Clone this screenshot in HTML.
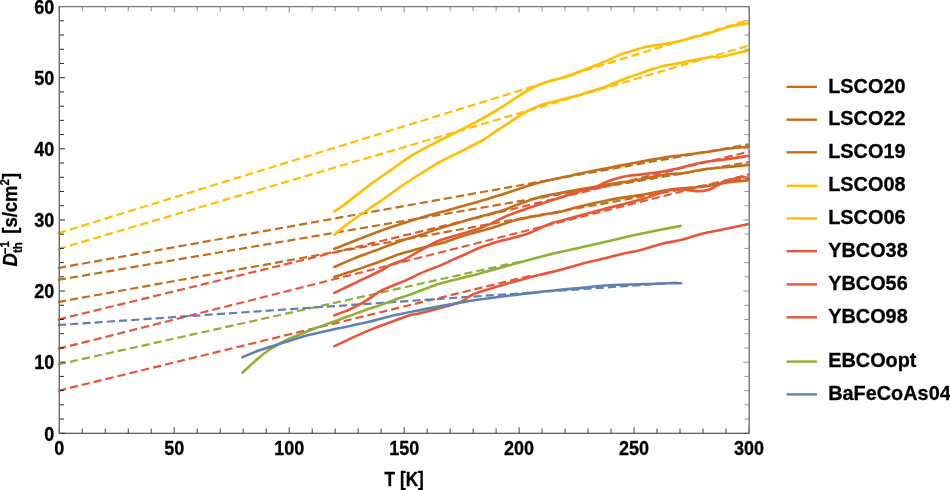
<!DOCTYPE html>
<html><head><meta charset="utf-8"><style>
html,body{margin:0;padding:0;background:#fff;width:950px;height:490px;overflow:hidden}
svg{display:block;font-family:"Liberation Sans",sans-serif;will-change:transform}
</style></head><body>
<svg width="950" height="490" viewBox="0 0 950 490">
<rect width="950" height="490" fill="#fff"/>
<g fill="none" stroke-width="2.2" stroke-dasharray="8.2 4.05" stroke-dashoffset="0.0">
<path stroke="#FFBF00" d="M57.92 233.31 L749.00 19.74"/>
<path stroke="#FFBF00" d="M57.92 249.08 L749.00 45.55"/>
<path stroke="#C56E1A" d="M57.92 268.05 L749.00 144.27"/>
<path stroke="#C56E1A" d="M57.92 279.92 L749.00 162.12"/>
<path stroke="#C56E1A" d="M57.92 302.05 L749.00 177.27"/>
<path stroke="#E95536" d="M57.92 319.56 L749.00 151.66"/>
<path stroke="#E95536" d="M57.92 348.94 L749.00 174.42"/>
<path stroke="#E95536" d="M57.92 390.75 L532.89 275.11"/>
<path stroke="#8FB032" d="M57.92 364.48 L519.10 261.76"/>
<path stroke="#5E81B5" d="M57.92 325.08 L680.03 282.38"/>
</g>
<g fill="none" stroke-width="2.6" stroke-linejoin="round" stroke-linecap="round">
<path stroke="#FFBF00" d="M334.50 211.40 C336.17 210.25 338.58 208.95 344.50 204.50 C350.42 200.05 362.35 190.38 370.00 184.70 C377.65 179.02 383.60 175.17 390.40 170.40 C397.20 165.63 404.00 160.35 410.80 156.10 C417.60 151.85 424.40 148.47 431.20 144.90 C438.00 141.33 444.42 138.37 451.60 134.70 C458.78 131.03 468.13 126.18 474.30 122.90 C480.47 119.62 483.83 117.75 488.60 115.00 C493.37 112.25 498.15 109.38 502.90 106.40 C507.65 103.42 512.82 99.83 517.10 97.10 C521.38 94.37 525.02 92.02 528.60 90.00 C532.18 87.98 535.27 86.43 538.60 85.00 C541.93 83.57 545.03 82.47 548.60 81.40 C552.17 80.33 556.35 79.62 560.00 78.60 C563.65 77.58 566.65 76.70 570.50 75.30 C574.35 73.90 578.88 71.88 583.10 70.20 C587.32 68.52 591.58 66.88 595.80 65.20 C600.02 63.52 604.20 61.90 608.40 60.10 C612.60 58.30 616.80 55.98 621.00 54.40 C625.20 52.82 629.60 51.83 633.60 50.60 C637.60 49.37 640.60 48.00 645.00 47.00 C649.40 46.00 654.87 45.42 660.00 44.60 C665.13 43.78 670.53 43.22 675.80 42.10 C681.07 40.98 686.33 39.30 691.60 37.90 C696.87 36.50 702.13 35.28 707.40 33.70 C712.67 32.12 718.82 29.75 723.20 28.40 C727.58 27.05 729.48 26.47 733.70 25.60 C737.92 24.73 746.03 23.60 748.50 23.20"/>
<path stroke="#FFBF00" d="M334.70 234.80 C336.33 233.38 338.78 230.65 344.50 226.30 C350.22 221.95 362.72 213.08 369.00 208.70 C375.28 204.32 376.93 203.67 382.20 200.00 C387.47 196.33 394.13 191.12 400.60 186.70 C407.07 182.28 414.20 177.75 421.00 173.50 C427.80 169.25 434.60 164.95 441.40 161.20 C448.20 157.45 454.88 154.53 461.80 151.00 C468.72 147.47 477.25 143.27 482.90 140.00 C488.55 136.73 491.18 134.38 495.70 131.40 C500.22 128.42 505.23 125.18 510.00 122.10 C514.77 119.02 520.25 115.27 524.30 112.90 C528.35 110.53 530.73 109.45 534.30 107.90 C537.87 106.35 541.42 104.92 545.70 103.60 C549.98 102.28 554.82 101.35 560.00 100.00 C565.18 98.65 571.90 96.88 576.80 95.50 C581.70 94.12 585.18 92.97 589.40 91.70 C593.62 90.43 597.88 89.38 602.10 87.90 C606.32 86.42 610.50 84.48 614.70 82.80 C618.90 81.12 623.08 79.35 627.30 77.80 C631.52 76.25 635.78 74.95 640.00 73.50 C644.22 72.05 648.38 70.42 652.60 69.10 C656.82 67.78 661.08 66.55 665.30 65.60 C669.52 64.65 673.70 64.18 677.90 63.40 C682.10 62.62 686.30 61.73 690.50 60.90 C694.70 60.07 699.52 59.10 703.10 58.40 C706.68 57.70 709.47 56.88 712.00 56.70 C714.53 56.52 715.57 57.55 718.30 57.30 C721.03 57.05 725.03 55.97 728.40 55.20 C731.77 54.43 735.15 53.47 738.50 52.70 C741.85 51.93 746.83 50.95 748.50 50.60"/>
<path stroke="#C56E1A" d="M334.30 249.00 C338.35 247.38 349.80 242.70 358.60 239.30 C367.40 235.90 377.58 231.93 387.10 228.60 C396.62 225.27 408.55 221.57 415.70 219.30 C422.85 217.03 424.52 216.55 430.00 215.00 C435.48 213.45 440.75 212.15 448.60 210.00 C456.45 207.85 468.53 204.58 477.10 202.10 C485.67 199.62 490.05 198.25 500.00 195.10 C509.95 191.95 524.55 186.57 536.80 183.20 C549.05 179.83 561.25 177.50 573.50 174.90 C585.75 172.30 599.22 169.80 610.30 167.60 C621.38 165.40 630.53 163.45 640.00 161.70 C649.47 159.95 656.35 158.68 667.10 157.10 C677.85 155.52 694.18 153.63 704.50 152.20 C714.82 150.77 721.67 149.43 729.00 148.50 C736.33 147.57 745.25 146.92 748.50 146.60"/>
<path stroke="#C56E1A" d="M334.30 267.10 C337.52 265.68 347.17 261.22 353.60 258.60 C360.03 255.98 364.93 254.38 372.90 251.40 C380.87 248.42 393.55 243.43 401.40 240.70 C409.25 237.97 413.57 237.07 420.00 235.00 C426.43 232.93 432.45 230.68 440.00 228.30 C447.55 225.92 456.88 223.12 465.30 220.70 C473.72 218.28 484.20 215.55 490.50 213.80 C496.80 212.05 495.38 212.85 503.10 210.20 C510.82 207.55 525.07 201.17 536.80 197.90 C548.53 194.63 564.32 192.35 573.50 190.60 C582.68 188.85 585.77 188.48 591.90 187.40 C598.03 186.32 602.28 185.42 610.30 184.10 C618.32 182.78 630.53 181.13 640.00 179.50 C649.47 177.87 660.43 175.28 667.10 174.30 C673.77 173.32 673.77 174.43 680.00 173.60 C686.23 172.77 696.33 170.42 704.50 169.30 C712.67 168.18 721.67 167.62 729.00 166.90 C736.33 166.18 745.25 165.32 748.50 165.00"/>
<path stroke="#C56E1A" d="M334.30 276.90 C337.52 275.87 347.65 272.68 353.60 270.70 C359.55 268.72 365.25 266.67 370.00 265.00 C374.75 263.33 376.87 262.60 382.10 260.70 C387.33 258.80 394.25 255.87 401.40 253.60 C408.55 251.33 418.57 248.78 425.00 247.10 C431.43 245.42 433.28 245.47 440.00 243.50 C446.72 241.53 456.88 237.83 465.30 235.30 C473.72 232.77 482.08 230.83 490.50 228.30 C498.92 225.77 507.38 222.30 515.80 220.10 C524.22 217.90 533.63 216.47 541.00 215.10 C548.37 213.73 554.58 213.08 560.00 211.90 C565.42 210.72 565.12 210.03 573.50 208.00 C581.88 205.97 599.22 201.85 610.30 199.70 C621.38 197.55 630.53 196.72 640.00 195.10 C649.47 193.48 659.00 191.20 667.10 190.00 C675.20 188.80 682.37 188.48 688.60 187.90 C694.83 187.32 697.77 187.45 704.50 186.50 C711.23 185.55 721.67 183.23 729.00 182.20 C736.33 181.17 745.25 180.62 748.50 180.30"/>
<path stroke="#E95536" d="M334.30 292.90 C337.52 291.35 345.63 287.42 353.60 283.60 C361.57 279.78 376.03 273.10 382.10 270.00 C388.17 266.90 386.42 266.67 390.00 265.00 C393.58 263.33 398.60 262.38 403.60 260.00 C408.60 257.62 413.93 253.98 420.00 250.70 C426.07 247.42 432.45 243.30 440.00 240.30 C447.55 237.30 458.98 234.60 465.30 232.70 C471.62 230.80 473.70 230.37 477.90 228.90 C482.10 227.43 486.30 225.78 490.50 223.90 C494.70 222.02 498.88 219.50 503.10 217.60 C507.32 215.70 510.18 214.55 515.80 212.50 C521.42 210.45 527.18 208.50 536.80 205.30 C546.42 202.10 563.70 196.37 573.50 193.30 C583.30 190.23 589.47 189.05 595.60 186.90 C601.73 184.75 604.78 182.25 610.30 180.40 C615.82 178.55 623.75 176.77 628.70 175.80 C633.65 174.83 633.60 175.45 640.00 174.60 C646.40 173.75 659.00 172.18 667.10 170.70 C675.20 169.22 682.37 167.15 688.60 165.70 C694.83 164.25 697.77 163.13 704.50 162.00 C711.23 160.87 721.67 159.93 729.00 158.90 C736.33 157.87 745.25 156.32 748.50 155.80"/>
<path stroke="#E95536" d="M334.30 315.40 C336.32 314.65 343.78 311.92 346.40 310.90 C349.02 309.88 347.62 310.47 350.00 309.30 C352.38 308.13 357.13 305.93 360.70 303.90 C364.27 301.87 368.42 299.07 371.40 297.10 C374.38 295.13 376.22 293.52 378.60 292.10 C380.98 290.68 383.08 289.78 385.70 288.60 C388.32 287.42 391.08 286.33 394.30 285.00 C397.52 283.67 399.88 282.87 405.00 280.60 C410.12 278.33 419.17 273.90 425.00 271.40 C430.83 268.90 435.40 267.52 440.00 265.60 C444.60 263.68 448.38 261.80 452.60 259.90 C456.82 258.00 461.08 256.10 465.30 254.20 C469.52 252.30 473.70 250.18 477.90 248.50 C482.10 246.82 486.30 245.47 490.50 244.10 C494.70 242.73 498.88 241.47 503.10 240.30 C507.32 239.13 511.58 238.25 515.80 237.10 C520.02 235.95 524.20 234.97 528.40 233.40 C532.60 231.83 536.80 229.50 541.00 227.70 C545.20 225.90 550.27 223.75 553.60 222.60 C556.93 221.45 556.25 222.07 561.00 220.80 C565.75 219.53 575.07 216.93 582.10 215.00 C589.13 213.07 596.18 211.05 603.20 209.20 C610.22 207.35 618.07 205.48 624.20 203.90 C630.33 202.32 635.22 201.07 640.00 199.70 C644.78 198.33 647.90 197.30 652.90 195.70 C657.90 194.10 665.57 191.20 670.00 190.10 C674.43 189.00 676.35 189.10 679.50 189.10 C682.65 189.10 685.75 189.73 688.90 190.10 C692.05 190.47 695.23 191.30 698.40 191.30 C701.57 191.30 704.75 191.08 707.90 190.10 C711.05 189.12 714.15 186.90 717.30 185.40 C720.45 183.90 723.63 182.28 726.80 181.10 C729.97 179.92 733.77 179.00 736.30 178.30 C738.83 177.60 739.97 176.90 742.00 176.90 C744.03 176.90 747.42 178.07 748.50 178.30"/>
<path stroke="#E95536" d="M334.30 346.10 C337.52 344.60 346.82 340.13 353.60 337.10 C360.38 334.07 367.87 330.75 375.00 327.90 C382.13 325.05 390.45 322.15 396.40 320.00 C402.35 317.85 406.77 316.12 410.70 315.00 C414.63 313.88 414.77 314.53 420.00 313.30 C425.23 312.07 435.22 309.53 442.10 307.60 C448.98 305.67 456.38 303.78 461.30 301.70 C466.22 299.62 467.43 297.07 471.60 295.10 C475.77 293.13 480.17 291.87 486.30 289.90 C492.43 287.93 499.80 285.75 508.40 283.30 C517.00 280.85 529.30 277.42 537.90 275.20 C546.50 272.98 551.58 272.20 560.00 270.00 C568.42 267.80 581.90 263.70 588.40 262.00 C594.90 260.30 593.73 261.05 599.00 259.80 C604.27 258.55 613.03 256.13 620.00 254.50 C626.97 252.87 633.93 251.77 640.80 250.00 C647.67 248.23 654.40 245.60 661.20 243.90 C668.00 242.20 674.80 241.50 681.60 239.80 C688.40 238.10 695.20 235.40 702.00 233.70 C708.80 232.00 714.65 231.20 722.40 229.60 C730.15 228.00 744.15 225.02 748.50 224.10"/>
<path stroke="#8FB032" d="M242.40 372.70 C243.88 371.33 248.45 367.08 251.30 364.50 C254.15 361.92 256.77 359.50 259.50 357.20 C262.23 354.90 264.98 352.60 267.70 350.70 C270.42 348.80 273.08 347.38 275.80 345.80 C278.52 344.22 279.90 343.12 284.00 341.20 C288.10 339.28 294.95 336.53 300.40 334.30 C305.85 332.07 310.93 329.97 316.70 327.80 C322.47 325.63 329.45 323.32 335.00 321.30 C340.55 319.28 345.12 317.52 350.00 315.70 C354.88 313.88 359.53 312.07 364.30 310.40 C369.07 308.73 373.83 307.37 378.60 305.70 C383.37 304.03 387.67 302.25 392.90 300.40 C398.13 298.55 403.22 297.05 410.00 294.60 C416.78 292.15 427.02 287.95 433.60 285.70 C440.18 283.45 441.95 283.10 449.50 281.10 C457.05 279.10 469.78 276.08 478.90 273.70 C488.02 271.32 492.97 269.87 504.20 266.80 C515.43 263.73 532.27 258.80 546.30 255.30 C560.33 251.80 576.12 248.62 588.40 245.80 C600.68 242.98 611.27 240.42 620.00 238.40 C628.73 236.38 630.70 235.78 640.80 233.70 C650.90 231.62 673.97 227.20 680.60 225.90"/>
<path stroke="#5E81B5" d="M242.40 357.20 C245.25 356.05 252.57 352.75 259.50 350.30 C266.43 347.85 275.83 345.03 284.00 342.50 C292.17 339.97 300.00 337.33 308.50 335.10 C317.00 332.87 325.10 331.27 335.00 329.10 C344.90 326.93 358.85 324.22 367.90 322.10 C376.95 319.98 380.62 318.40 389.30 316.40 C397.98 314.40 409.97 312.07 420.00 310.10 C430.03 308.13 439.68 306.37 449.50 304.60 C459.32 302.83 469.08 300.97 478.90 299.50 C488.72 298.03 498.57 297.03 508.40 295.80 C518.23 294.57 529.30 293.08 537.90 292.10 C546.50 291.12 553.07 290.58 560.00 289.90 C566.93 289.22 571.35 288.77 579.50 288.00 C587.65 287.23 599.08 285.92 608.90 285.30 C618.72 284.68 628.57 284.63 638.40 284.30 C648.23 283.97 660.77 283.47 667.90 283.30 C675.03 283.13 678.98 283.30 681.20 283.30"/>
</g>
<g fill="none">
<path stroke="#555" stroke-width="1.1" d="M59.30 433.30 V427.30 M82.29 433.30 V428.60 M105.28 433.30 V428.60 M128.27 433.30 V428.60 M151.26 433.30 V428.60 M174.25 433.30 V427.30 M197.24 433.30 V428.60 M220.23 433.30 V428.60 M243.22 433.30 V428.60 M266.21 433.30 V428.60 M289.20 433.30 V427.30 M312.19 433.30 V428.60 M335.18 433.30 V428.60 M358.17 433.30 V428.60 M381.16 433.30 V428.60 M404.15 433.30 V427.30 M427.14 433.30 V428.60 M450.13 433.30 V428.60 M473.12 433.30 V428.60 M496.11 433.30 V428.60 M519.10 433.30 V427.30 M542.09 433.30 V428.60 M565.08 433.30 V428.60 M588.07 433.30 V428.60 M611.06 433.30 V428.60 M634.05 433.30 V427.30 M657.04 433.30 V428.60 M680.03 433.30 V428.60 M703.02 433.30 V428.60 M726.01 433.30 V428.60 M749.00 433.30 V427.30"/>
<path stroke="#999" stroke-width="1.1" d="M59.30 6.58 V12.58 M82.29 6.58 V11.28 M105.28 6.58 V11.28 M128.27 6.58 V11.28 M151.26 6.58 V11.28 M174.25 6.58 V12.58 M197.24 6.58 V11.28 M220.23 6.58 V11.28 M243.22 6.58 V11.28 M266.21 6.58 V11.28 M289.20 6.58 V12.58 M312.19 6.58 V11.28 M335.18 6.58 V11.28 M358.17 6.58 V11.28 M381.16 6.58 V11.28 M404.15 6.58 V12.58 M427.14 6.58 V11.28 M450.13 6.58 V11.28 M473.12 6.58 V11.28 M496.11 6.58 V11.28 M519.10 6.58 V12.58 M542.09 6.58 V11.28 M565.08 6.58 V11.28 M588.07 6.58 V11.28 M611.06 6.58 V11.28 M634.05 6.58 V12.58 M657.04 6.58 V11.28 M680.03 6.58 V11.28 M703.02 6.58 V11.28 M726.01 6.58 V11.28 M749.00 6.58 V12.58"/>
<path stroke="#222" stroke-width="1" d="M59.30 433.30 H65.00 M59.30 419.08 H63.90 M59.30 404.85 H63.90 M59.30 390.63 H63.90 M59.30 376.40 H63.90 M59.30 362.18 H65.00 M59.30 347.96 H63.90 M59.30 333.73 H63.90 M59.30 319.51 H63.90 M59.30 305.28 H63.90 M59.30 291.06 H65.00 M59.30 276.84 H63.90 M59.30 262.61 H63.90 M59.30 248.39 H63.90 M59.30 234.16 H63.90 M59.30 219.94 H65.00 M59.30 205.72 H63.90 M59.30 191.49 H63.90 M59.30 177.27 H63.90 M59.30 163.04 H63.90 M59.30 148.82 H65.00 M59.30 134.60 H63.90 M59.30 120.37 H63.90 M59.30 106.15 H63.90 M59.30 91.92 H63.90 M59.30 77.70 H65.00 M59.30 63.48 H63.90 M59.30 49.25 H63.90 M59.30 35.03 H63.90 M59.30 20.80 H63.90 M59.30 6.58 H65.00"/>
<path stroke="#999" stroke-width="1" d="M749.00 433.30 H743.30 M749.00 419.08 H744.40 M749.00 404.85 H744.40 M749.00 390.63 H744.40 M749.00 376.40 H744.40 M749.00 362.18 H743.30 M749.00 347.96 H744.40 M749.00 333.73 H744.40 M749.00 319.51 H744.40 M749.00 305.28 H744.40 M749.00 291.06 H743.30 M749.00 276.84 H744.40 M749.00 262.61 H744.40 M749.00 248.39 H744.40 M749.00 234.16 H744.40 M749.00 219.94 H743.30 M749.00 205.72 H744.40 M749.00 191.49 H744.40 M749.00 177.27 H744.40 M749.00 163.04 H744.40 M749.00 148.82 H743.30 M749.00 134.60 H744.40 M749.00 120.37 H744.40 M749.00 106.15 H744.40 M749.00 91.92 H744.40 M749.00 77.70 H743.30 M749.00 63.48 H744.40 M749.00 49.25 H744.40 M749.00 35.03 H744.40 M749.00 20.80 H744.40 M749.00 6.58 H743.30"/>
<path stroke="#333" stroke-width="1.1" d="M58.70 433.30 H749.60"/>
<path stroke="#777" stroke-width="1.4" d="M58.70 6.58 H749.60"/>
<path stroke="#6a6a6a" stroke-width="1.4" d="M59.30 6.58 V433.30"/>
<path stroke="#777" stroke-width="1.4" d="M749.20 6.58 V433.30"/>
</g>
<g font-family="Liberation Sans, sans-serif" font-weight="bold" fill="#000" stroke="#000" stroke-width="0.3">
<text transform="translate(59.30 455.2) scale(0.905 1)" font-size="19.9" text-anchor="middle">0</text>
<text transform="translate(174.25 455.2) scale(0.905 1)" font-size="19.9" text-anchor="middle">50</text>
<text transform="translate(289.20 455.2) scale(0.905 1)" font-size="19.9" text-anchor="middle">100</text>
<text transform="translate(404.15 455.2) scale(0.905 1)" font-size="19.9" text-anchor="middle">150</text>
<text transform="translate(519.10 455.2) scale(0.905 1)" font-size="19.9" text-anchor="middle">200</text>
<text transform="translate(634.05 455.2) scale(0.905 1)" font-size="19.9" text-anchor="middle">250</text>
<text transform="translate(749.00 455.2) scale(0.905 1)" font-size="19.9" text-anchor="middle">300</text>
<text transform="translate(54.2 440.50) scale(0.905 1)" font-size="19.9" text-anchor="end">0</text>
<text transform="translate(54.2 369.38) scale(0.905 1)" font-size="19.9" text-anchor="end">10</text>
<text transform="translate(54.2 298.26) scale(0.905 1)" font-size="19.9" text-anchor="end">20</text>
<text transform="translate(54.2 227.14) scale(0.905 1)" font-size="19.9" text-anchor="end">30</text>
<text transform="translate(54.2 156.02) scale(0.905 1)" font-size="19.9" text-anchor="end">40</text>
<text transform="translate(54.2 84.90) scale(0.905 1)" font-size="19.9" text-anchor="end">50</text>
<text transform="translate(54.2 13.78) scale(0.905 1)" font-size="19.9" text-anchor="end">60</text>
<text transform="translate(404.2 486.3) scale(0.89 1)" font-size="19.4" text-anchor="middle">T [K]</text>
<text transform="translate(17.2,266.5) rotate(-90) scale(0.95 1)" font-size="19.5"><tspan font-style="italic">D</tspan><tspan font-size="12" dy="4.3">th</tspan><tspan font-size="12" dx="-12.3" dy="-12.3">−1</tspan><tspan dy="8" dx="2.3"> [s/cm</tspan><tspan font-size="12" dy="-8">2</tspan><tspan dy="8">]</tspan></text>
<path d="M786.6 86.90 H817" stroke="#C56E1A" stroke-width="2.4" fill="none"/>
<text transform="translate(828.2 92.50) scale(0.942 1)" font-size="21.1">LSCO20</text>
<path d="M786.6 119.70 H817" stroke="#C56E1A" stroke-width="2.4" fill="none"/>
<text transform="translate(828.2 125.30) scale(0.942 1)" font-size="21.1">LSCO22</text>
<path d="M786.6 152.30 H817" stroke="#C56E1A" stroke-width="2.4" fill="none"/>
<text transform="translate(828.2 157.90) scale(0.942 1)" font-size="21.1">LSCO19</text>
<path d="M786.6 185.80 H817" stroke="#FFBF00" stroke-width="2.4" fill="none"/>
<text transform="translate(828.2 191.40) scale(0.942 1)" font-size="21.1">LSCO08</text>
<path d="M786.6 218.40 H817" stroke="#FFBF00" stroke-width="2.4" fill="none"/>
<text transform="translate(828.2 224.00) scale(0.942 1)" font-size="21.1">LSCO06</text>
<path d="M786.6 251.20 H817" stroke="#E95536" stroke-width="2.4" fill="none"/>
<text transform="translate(828.2 256.80) scale(0.942 1)" font-size="21.1">YBCO38</text>
<path d="M786.6 284.40 H817" stroke="#E95536" stroke-width="2.4" fill="none"/>
<text transform="translate(828.2 290.00) scale(0.942 1)" font-size="21.1">YBCO56</text>
<path d="M786.6 317.30 H817" stroke="#E95536" stroke-width="2.4" fill="none"/>
<text transform="translate(828.2 322.90) scale(0.942 1)" font-size="21.1">YBCO98</text>
<path d="M786.6 361.60 H817" stroke="#8FB032" stroke-width="2.4" fill="none"/>
<text transform="translate(828.2 367.20) scale(0.942 1)" font-size="21.1">EBCOopt</text>
<path d="M786.6 394.40 H817" stroke="#5E81B5" stroke-width="2.4" fill="none"/>
<text transform="translate(828.2 400.00) scale(0.942 1)" font-size="21.1">BaFeCoAs04</text>
</g>
</svg>
</body></html>
